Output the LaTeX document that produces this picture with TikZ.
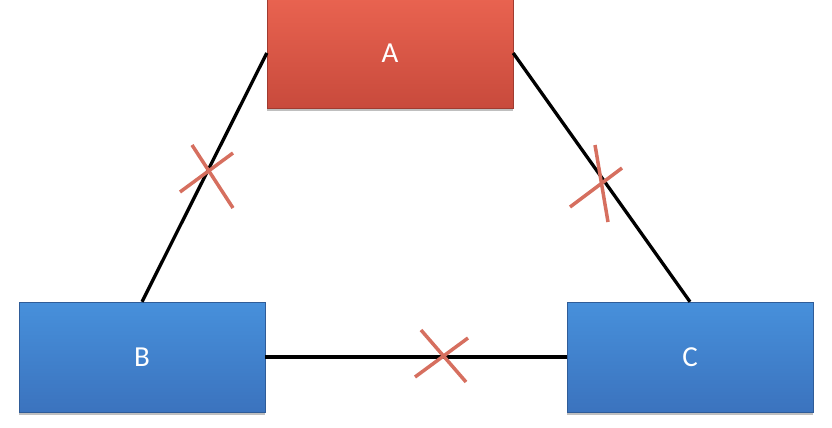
\documentclass[tikz,border=0pt]{standalone}
\usepackage{fontspec}
\setmainfont{Carlito}
\usetikzlibrary{shadows}
\begin{document}
\begin{tikzpicture}[x=1pt,y=-1pt,
  box/.style={minimum width=246pt,minimum height=110pt,inner sep=0pt,
    text=white,font=\fontsize{29}{31}\selectfont,
    drop shadow={shadow xshift=0pt,shadow yshift=-3pt,opacity=0.5}},
  link/.style={line width=3.3pt,black},
  crossmark/.style={line width=3.5pt,color=xred}]
\definecolor{xred}{HTML}{D66F5F}
\definecolor{atop}{HTML}{E96350}
\definecolor{abot}{HTML}{C84A3C}
\definecolor{btop}{HTML}{4790DB}
\definecolor{bbot}{HTML}{3B73BE}
\useasboundingbox (0,0) rectangle (832,428);
\node[box,top color=atop,bottom color=abot,draw=abot!80!black] (A) at (390,53) {A};
\node[box,top color=btop,bottom color=bbot,draw=bbot!80!black] (B) at (142,357) {B};
\node[box,top color=btop,bottom color=bbot,draw=bbot!80!black] (C) at (690,357) {C};
\draw[link] (A.west) -- (B.north);
\draw[link] (A.east) -- (C.north);
\draw[link] (B.east) -- (C.west);
\coordinate (x1a) at (192,145); \coordinate (x1b) at (233,208);
\coordinate (x1c) at (180,192); \coordinate (x1d) at (233,153);
\coordinate (x2a) at (421,330); \coordinate (x2b) at (466,382);
\coordinate (x2c) at (415,377); \coordinate (x2d) at (468,338);
\coordinate (x3a) at (595,145); \coordinate (x3b) at (608,222);
\coordinate (x3c) at (570,207); \coordinate (x3d) at (622,168);
\draw[crossmark] (x1a) -- (x1b);
\draw[crossmark] (x1c) -- (x1d);
\draw[crossmark] (x2a) -- (x2b);
\draw[crossmark] (x2c) -- (x2d);
\draw[crossmark] (x3a) -- (x3b);
\draw[crossmark] (x3c) -- (x3d);
\end{tikzpicture}
\end{document}
